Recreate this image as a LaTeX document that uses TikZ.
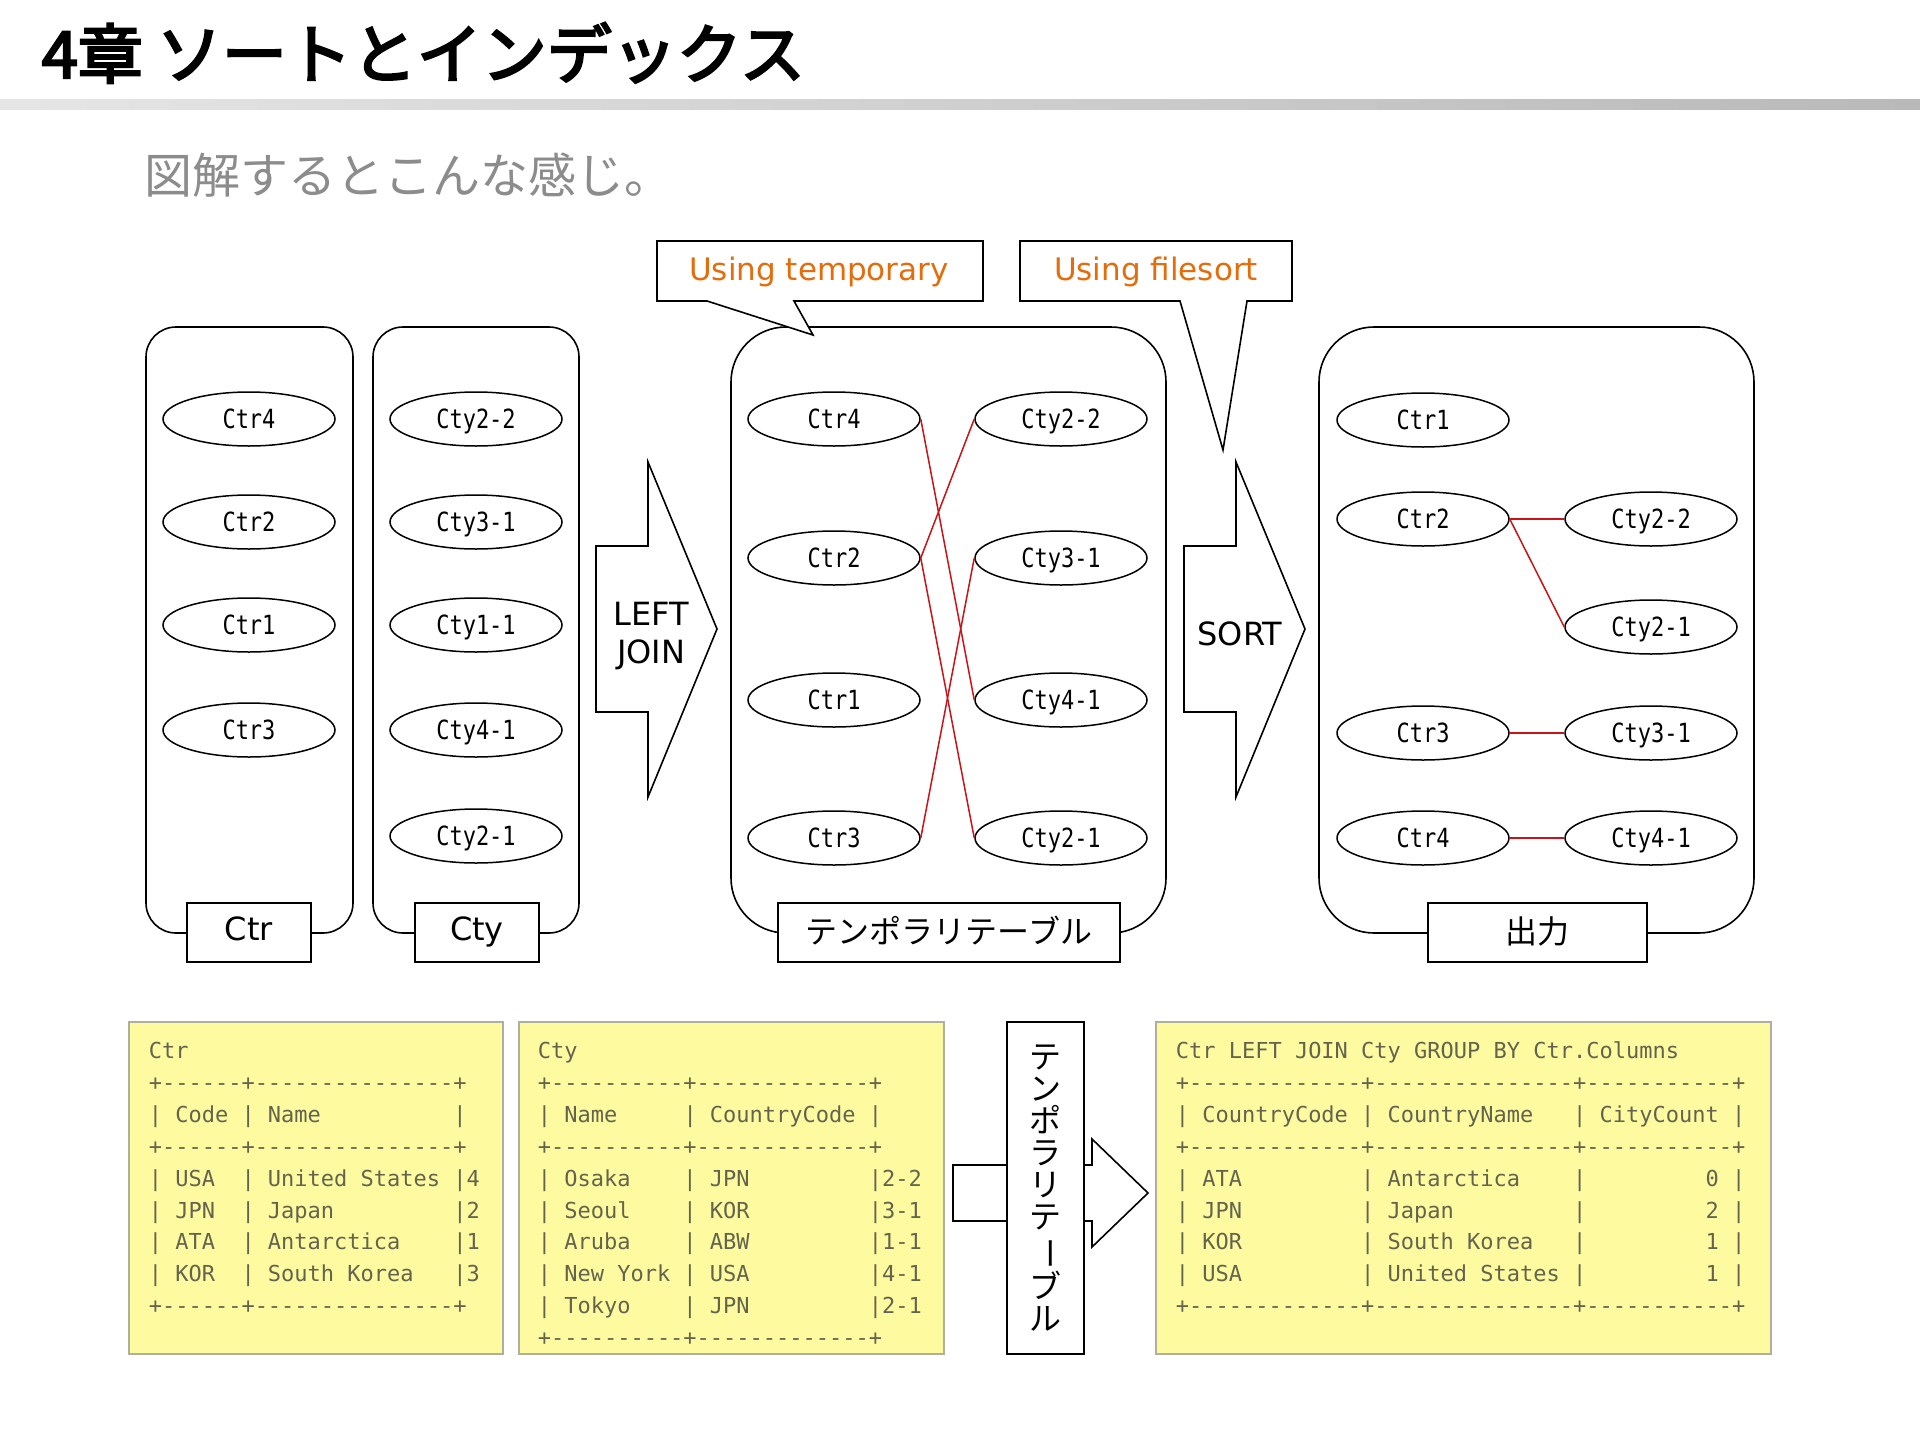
\documentclass[tikz,border=0pt]{standalone}
\usepackage{fontspec}
\usepackage{graphicx}
\setmainfont{DejaVu Sans}
\setmonofont{DejaVu Sans Mono}
\newfontfamily\jpfont[AutoFakeBold=2]{Noto Sans CJK JP}
\newfontfamily\jptitle[AutoFakeBold=3.5, BoldFeatures={FakeBold=1.5}]{Noto Sans CJK JP}
\usetikzlibrary{shapes.geometric}
\definecolor{orangetxt}{RGB}{228,108,10}
\definecolor{joinred}{RGB}{200,20,25}
\definecolor{tabfill}{RGB}{253,250,160}
\definecolor{tabdraw}{RGB}{175,175,160}
\definecolor{tabtext}{RGB}{100,100,78}
\definecolor{subgray}{RGB}{140,140,140}
\newcommand\eltxt[1]{\scalebox{1}[1.2]{#1}}
\begin{document}
\begin{tikzpicture}[x=1pt,y=-1pt,line width=1.6pt,
  grp/.style={draw, line width=1.6pt, rounded corners=#1, inner sep=0pt},
  lbl/.style={draw, fill=white, line width=1.6pt, inner sep=0pt, minimum height=59pt,
    font=\fontsize{32}{32}\selectfont, text height=23pt, text depth=7pt},
  lbljp/.style={draw, fill=white, line width=1.6pt, inner sep=0pt, minimum height=59pt,
    font=\jpfont\fontsize{32}{32}\selectfont, text height=26pt, text depth=4pt},
  el/.style={draw, ellipse, minimum width=172pt, minimum height=54pt, inner sep=0pt,
    line width=1.5pt, font=\ttfamily\fontsize{22}{22}\selectfont, text height=19pt, text depth=0pt},
  rl/.style={draw=joinred, line width=1.5pt},
  shapeline/.style={draw, fill=white, line width=1.6pt, line join=miter},
  sanslbl/.style={anchor=base, inner sep=0pt, font=\fontsize{32}{32}\selectfont},
  calltxt/.style={anchor=base, inner sep=0pt, text=orangetxt, font=\fontsize{31}{31}\selectfont},
  tblbox/.style={draw=tabdraw, fill=tabfill, line width=2pt, inner sep=0pt, minimum height=332pt},
  tt/.style={anchor=base west, inner sep=0pt, text=tabtext, font=\ttfamily\fontsize{22}{22}\selectfont}
]
\useasboundingbox (0,0) rectangle (1920,1440);
\fill[white] (0,0) rectangle (1920,1440);

% ---------- heading ----------
\node[anchor=base west, inner sep=0pt, font=\jptitle\bfseries\fontsize{65}{65}\selectfont] (title) at (41,78) {4章\hspace{14pt}ソートとインデックス};
\shade[left color=gray!20, right color=gray!55] (0,99) rectangle (1920,109);
\node[anchor=base west, inner sep=0pt, text=subgray, font=\jpfont\fontsize{48}{48}\selectfont] (sub) at (144,193) {図解するとこんな感じ。};

% ---------- group boxes ----------
\node[grp=30pt, minimum width=207pt, minimum height=606pt] (gctr) at (249.5,630) {};
\node[grp=30pt, minimum width=206pt, minimum height=606pt] (gcty) at (476,630) {};
\node[grp=55pt, minimum width=435pt, minimum height=606pt] (gtmp) at (948.5,630) {};
\node[grp=55pt, minimum width=435pt, minimum height=606pt] (gout) at (1536.5,630) {};

\node[lbl, minimum width=124pt] (lctr) at (249,932.5) {Ctr};
\node[lbl, minimum width=124pt] (lcty) at (477,932.5) {Cty};
\node[lbljp, minimum width=342pt] (ltmp) at (949,932.5) {テンポラリテーブル};
\node[lbljp, minimum width=219pt] (lout) at (1537.5,932.5) {出力};

% Ctr group
\node[el] (actr4) at (249,419) {\eltxt{Ctr4}};
\node[el] (actr2) at (249,522) {\eltxt{Ctr2}};
\node[el] (actr1) at (249,625) {\eltxt{Ctr1}};
\node[el] (actr3) at (249,730) {\eltxt{Ctr3}};
% Cty group
\node[el] (bcty22) at (476,419) {\eltxt{Cty2-2}};
\node[el] (bcty31) at (476,522) {\eltxt{Cty3-1}};
\node[el] (bcty11) at (476,625) {\eltxt{Cty1-1}};
\node[el] (bcty41) at (476,730) {\eltxt{Cty4-1}};
\node[el] (bcty21) at (476,836) {\eltxt{Cty2-1}};
% temporary table
\node[el] (tctr4) at (834,419) {\eltxt{Ctr4}};
\node[el] (tctr2) at (834,558) {\eltxt{Ctr2}};
\node[el] (tctr1) at (834,700) {\eltxt{Ctr1}};
\node[el] (tctr3) at (834,838) {\eltxt{Ctr3}};
\node[el] (tcty22) at (1061,419) {\eltxt{Cty2-2}};
\node[el] (tcty31) at (1061,558) {\eltxt{Cty3-1}};
\node[el] (tcty41) at (1061,700) {\eltxt{Cty4-1}};
\node[el] (tcty21) at (1061,838) {\eltxt{Cty2-1}};
\draw[rl] (tctr4.east) -- (tcty41.west);
\draw[rl] (tctr2.east) -- (tcty22.west);
\draw[rl] (tctr2.east) -- (tcty21.west);
\draw[rl] (tctr3.east) -- (tcty31.west);
% output
\node[el] (octr1) at (1423,420) {\eltxt{Ctr1}};
\node[el] (octr2) at (1423,519) {\eltxt{Ctr2}};
\node[el] (octr3) at (1423,733) {\eltxt{Ctr3}};
\node[el] (octr4) at (1423,838) {\eltxt{Ctr4}};
\node[el] (octy22) at (1651,519) {\eltxt{Cty2-2}};
\node[el] (octy21) at (1651,627) {\eltxt{Cty2-1}};
\node[el] (octy31) at (1651,733) {\eltxt{Cty3-1}};
\node[el] (octy41) at (1651,838) {\eltxt{Cty4-1}};
\draw[rl] (octr2.east) -- (octy22.west);
\draw[rl] (octr2.east) -- (octy21.west);
\draw[rl] (octr3.east) -- (octy31.west);
\draw[rl] (octr4.east) -- (octy41.west);

% ---------- callouts ----------
\draw[shapeline] (657,241) -- (983,241) -- (983,301) -- (794,301) -- (813,335) -- (707,301) -- (657,301) -- cycle;
\node[calltxt] (ctemp) at (819,280) {Using temporary};
\draw[shapeline] (1020,241) -- (1292,241) -- (1292,301) -- (1247,301) -- (1223,450) -- (1180,301) -- (1020,301) -- cycle;
\node[calltxt] (cfile) at (1156,280) {Using filesort};

% ---------- block arrows ----------
\draw[shapeline] (596,546) -- (648,546) -- (648,462) -- (717,629) -- (648,797) -- (648,712) -- (596,712) -- cycle;
\node[sanslbl] (lj1) at (651,625) {LEFT};
\node[sanslbl] (lj2) at (651,663) {JOIN};
\draw[shapeline] (1184,546) -- (1236,546) -- (1236,462) -- (1305,629) -- (1236,797) -- (1236,712) -- (1184,712) -- cycle;
\node[sanslbl] (sorttxt) at (1240,645) {SORT};

% ---------- tables ----------
\node[tblbox, minimum width=374pt] (tb1) at (316,1188) {};
\node[tblbox, minimum width=425pt] (tb2) at (731.5,1188) {};
\node[tblbox, minimum width=615pt] (tb3) at (1463.5,1188) {};

\draw[shapeline] (953,1165) -- (1092,1165) -- (1092,1139) -- (1148,1193) -- (1092,1247) -- (1092,1221) -- (953,1221) -- cycle;
\node[draw, fill=white, line width=1.6pt, inner sep=0pt, minimum width=77pt, minimum height=332pt,
  align=center, font=\jpfont\fontsize{32}{32}\selectfont] (vbox) at (1045.5,1188)
  {テ\\ン\\ポ\\ラ\\リ\\テ\\\rotatebox[origin=c]{-90}{ー}\\ブ\\ル};

% Ctr table
\node[tt] (a0) at (148,1058.5) {Ctr};
\node[tt] (a1) at (148,1090.4) {+------+---------------+};
\node[tt] (a2) at (148,1122.3) {|~Code~|~Name~~~~~~~~~~|};
\node[tt] (a3) at (148,1154.2) {+------+---------------+};
\node[tt] (a4) at (148,1186.1) {|~USA~~|~United~States~|4};
\node[tt] (a5) at (148,1218.0) {|~JPN~~|~Japan~~~~~~~~~|2};
\node[tt] (a6) at (148,1249.9) {|~ATA~~|~Antarctica~~~~|1};
\node[tt] (a7) at (148,1281.8) {|~KOR~~|~South~Korea~~~|3};
\node[tt] (a8) at (148,1313.7) {+------+---------------+};
% Cty table
\node[tt] (b0) at (537,1058.5) {Cty};
\node[tt] (b1) at (537,1090.4) {+----------+-------------+};
\node[tt] (b2) at (537,1122.3) {|~Name~~~~~|~CountryCode~|};
\node[tt] (b3) at (537,1154.2) {+----------+-------------+};
\node[tt] (b4) at (537,1186.1) {|~Osaka~~~~|~JPN~~~~~~~~~|2-2};
\node[tt] (b5) at (537,1218.0) {|~Seoul~~~~|~KOR~~~~~~~~~|3-1};
\node[tt] (b6) at (537,1249.9) {|~Aruba~~~~|~ABW~~~~~~~~~|1-1};
\node[tt] (b7) at (537,1281.8) {|~New~York~|~USA~~~~~~~~~|4-1};
\node[tt] (b8) at (537,1313.7) {|~Tokyo~~~~|~JPN~~~~~~~~~|2-1};
\node[tt] (b9) at (537,1345.6) {+----------+-------------+};
% result table
\node[tt] (c0) at (1175,1058.5) {Ctr~LEFT~JOIN~Cty~GROUP~BY~Ctr.Columns};
\node[tt] (c1) at (1175,1090.4) {+-------------+---------------+-----------+};
\node[tt] (c2) at (1175,1122.3) {|~CountryCode~|~CountryName~~~|~CityCount~|};
\node[tt] (c3) at (1175,1154.2) {+-------------+---------------+-----------+};
\node[tt] (c4) at (1175,1186.1) {|~ATA~~~~~~~~~|~Antarctica~~~~|~~~~~~~~~0~|};
\node[tt] (c5) at (1175,1218.0) {|~JPN~~~~~~~~~|~Japan~~~~~~~~~|~~~~~~~~~2~|};
\node[tt] (c6) at (1175,1249.9) {|~KOR~~~~~~~~~|~South~Korea~~~|~~~~~~~~~1~|};
\node[tt] (c7) at (1175,1281.8) {|~USA~~~~~~~~~|~United~States~|~~~~~~~~~1~|};
\node[tt] (c8) at (1175,1313.7) {+-------------+---------------+-----------+};
\end{tikzpicture}
\end{document}
